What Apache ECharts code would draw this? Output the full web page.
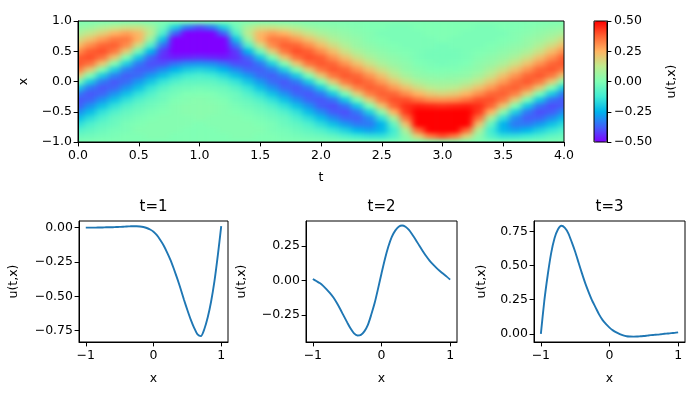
<!DOCTYPE html>
<html>
<head>
<meta charset="utf-8">
<script src="https://cdn.jsdelivr.net/npm/echarts@6/dist/echarts.min.js"></script>
<style>
html,body{margin:0;padding:0;background:#fff;width:700px;height:400px;overflow:hidden}
#heatClip{position:absolute;left:78px;top:21px;width:486px;height:121px;overflow:hidden;background:#80ffb4}
#heat{position:absolute;left:-6px;top:-3px;width:499px;height:128px;filter:url(#soft)}
#main{position:absolute;left:0;top:0;width:700px;height:400px}
</style>
</head>
<body>
<svg width="0" height="0" style="position:absolute"><filter id="soft" x="0" y="0" width="100%" height="100%" color-interpolation-filters="sRGB"><feGaussianBlur stdDeviation="3.8 2"/></filter></svg>
<div id="heatClip"><div id="heat"></div></div>
<div id="main"></div>
<script>
// u(t,x) in hundredths: one row per t = 0.0, 0.1 ... 4.0, each running x = -1.0 ... 1.0
const fieldColumns = [
[0,-4,-9,-16,-23,-31,-38,-39,-34,-20,0,20,34,39,38,31,23,16,9,4,0],
[0,-3,-6,-10,-16,-23,-30,-37,-39,-34,-20,0,20,35,40,38,31,22,14,6,0],
[0,-2,-4,-6,-10,-15,-22,-30,-37,-39,-34,-20,1,21,35,40,37,29,19,10,0],
[0,-1,-2,-4,-5,-9,-15,-22,-30,-37,-39,-33,-19,1,21,34,38,34,25,13,0],
[0,0,-1,-1,-3,-5,-9,-15,-22,-30,-36,-38,-33,-19,0,19,31,34,28,15,0],
[0,0,1,0,-1,-3,-5,-9,-15,-22,-29,-36,-38,-34,-21,-3,15,25,24,15,0],
[0,1,1,1,0,-1,-3,-5,-9,-14,-21,-29,-37,-40,-37,-25,-9,5,12,9,0],
[0,1,1,1,1,0,-1,-3,-4,-8,-14,-22,-31,-40,-44,-43,-35,-22,-10,-3,0],
[0,0,1,1,1,1,1,0,-2,-4,-9,-16,-25,-35,-46,-54,-56,-50,-37,-19,0],
[0,0,0,1,1,2,2,1,0,-3,-6,-12,-20,-31,-45,-59,-69,-71,-59,-34,0],
[0,0,0,0,2,2,2,2,0,-2,-6,-10,-18,-30,-44,-60,-74,-78,-68,-40,0],
[0,0,0,1,1,2,2,1,0,-3,-6,-12,-20,-31,-45,-59,-69,-71,-59,-34,0],
[0,0,1,1,1,1,1,0,-2,-4,-9,-16,-25,-35,-46,-54,-56,-50,-37,-19,0],
[0,1,1,1,1,0,-1,-3,-4,-8,-14,-22,-31,-40,-44,-43,-35,-22,-10,-3,0],
[0,1,1,1,0,-1,-3,-5,-9,-14,-21,-29,-37,-40,-37,-25,-9,5,12,9,0],
[0,0,1,0,-1,-3,-5,-9,-15,-22,-29,-36,-38,-34,-21,-3,15,25,24,15,0],
[0,0,-1,-1,-3,-5,-9,-15,-22,-30,-36,-38,-33,-19,0,19,31,34,28,15,0],
[0,-1,-2,-4,-5,-9,-15,-22,-30,-37,-39,-33,-19,1,21,34,38,34,25,13,0],
[0,-2,-4,-6,-10,-15,-22,-30,-37,-39,-34,-20,1,21,35,40,37,29,19,10,0],
[0,-3,-6,-10,-16,-23,-30,-37,-39,-34,-20,0,20,35,40,38,31,22,14,6,0],
[0,-4,-9,-16,-23,-31,-38,-39,-34,-20,0,20,34,39,38,31,23,16,9,4,0],
[0,-6,-14,-22,-31,-38,-40,-35,-20,0,20,34,39,37,30,23,16,10,6,3,0],
[0,-10,-19,-29,-37,-40,-35,-21,-1,20,34,39,37,30,22,15,10,6,4,2,0],
[0,-13,-25,-34,-38,-34,-21,-1,19,33,39,37,30,22,15,9,5,4,2,1,0],
[0,-15,-28,-34,-31,-19,0,19,33,38,36,30,22,15,9,5,3,1,1,0,0],
[0,-15,-24,-25,-15,3,21,34,38,36,29,22,15,9,5,3,1,0,-1,0,0],
[0,-9,-12,-5,9,25,37,40,37,29,21,14,9,5,3,1,0,-1,-1,-1,0],
[0,3,10,22,35,43,44,40,31,22,14,8,4,3,1,0,-1,-1,-1,-1,0],
[0,19,37,50,56,54,46,35,25,16,9,4,2,0,-1,-1,-1,-1,-1,0,0],
[0,34,59,71,69,59,45,31,20,12,6,3,0,-1,-2,-2,-1,-1,0,0,0],
[0,40,68,78,74,60,44,30,18,10,6,2,0,-2,-2,-2,-2,0,0,0,0],
[0,34,59,71,69,59,45,31,20,12,6,3,0,-1,-2,-2,-1,-1,0,0,0],
[0,19,37,50,56,54,46,35,25,16,9,4,2,0,-1,-1,-1,-1,-1,0,0],
[0,3,10,22,35,43,44,40,31,22,14,8,4,3,1,0,-1,-1,-1,-1,0],
[0,-9,-12,-5,9,25,37,40,37,29,21,14,9,5,3,1,0,-1,-1,-1,0],
[0,-15,-24,-25,-15,3,21,34,38,36,29,22,15,9,5,3,1,0,-1,0,0],
[0,-15,-28,-34,-31,-19,0,19,33,38,36,30,22,15,9,5,3,1,1,0,0],
[0,-13,-25,-34,-38,-34,-21,-1,19,33,39,37,30,22,15,9,5,4,2,1,0],
[0,-10,-19,-29,-37,-40,-35,-21,-1,20,34,39,37,30,22,15,10,6,4,2,0],
[0,-6,-14,-22,-31,-38,-40,-35,-20,0,20,34,39,37,30,23,16,10,6,3,0],
[0,-4,-9,-16,-23,-31,-38,-39,-34,-20,0,20,34,39,38,31,23,16,9,4,0]
];
const tCats = ['0.0','0.1','0.2','0.3','0.4','0.5','0.6','0.7','0.8','0.9','1.0','1.1','1.2','1.3','1.4','1.5','1.6','1.7','1.8','1.9','2.0','2.1','2.2','2.3','2.4','2.5','2.6','2.7','2.8','2.9','3.0','3.1','3.2','3.3','3.4','3.5','3.6','3.7','3.8','3.9','4.0'];
const xCats = ['-1.0','-0.9','-0.8','-0.7','-0.6','-0.5','-0.4','-0.3','-0.2','-0.1','0.0','0.1','0.2','0.3','0.4','0.5','0.6','0.7','0.8','0.9','1.0'];

const t1X = [-1,-0.95,-0.9,-0.85,-0.8,-0.75,-0.7,-0.65,-0.6,-0.55,-0.5,-0.45,-0.4,-0.35,-0.3,-0.25,-0.2,-0.15,-0.1,-0.05,0,0.05,0.1,0.15,0.2,0.25,0.3,0.35,0.4,0.45,0.5,0.55,0.6,0.65,0.7,0.75,0.8,0.85,0.9,0.95,1];
const t1Y = [0,0,0,0,0.001,0.001,0.002,0.002,0.003,0.004,0.005,0.006,0.008,0.009,0.01,0.01,0.008,0.004,-0.003,-0.014,-0.03,-0.055,-0.09,-0.13,-0.18,-0.235,-0.3,-0.37,-0.445,-0.525,-0.6,-0.67,-0.73,-0.777,-0.79,-0.74,-0.655,-0.54,-0.39,-0.2,0.01];
const t2X = [-1,-0.95,-0.9,-0.85,-0.8,-0.75,-0.7,-0.65,-0.6,-0.55,-0.5,-0.45,-0.4,-0.35,-0.3,-0.25,-0.2,-0.15,-0.1,-0.05,0,0.05,0.1,0.15,0.2,0.25,0.3,0.35,0.4,0.45,0.5,0.55,0.6,0.65,0.7,0.75,0.8,0.85,0.9,0.95,1];
const t2Y = [0.01,-0.005,-0.02,-0.04,-0.065,-0.093,-0.125,-0.165,-0.21,-0.258,-0.305,-0.35,-0.385,-0.4,-0.395,-0.37,-0.325,-0.25,-0.165,-0.06,0.05,0.155,0.245,0.315,0.36,0.388,0.397,0.388,0.365,0.33,0.293,0.252,0.213,0.176,0.143,0.115,0.09,0.068,0.047,0.027,0.005];
const t3X = [-1,-0.95,-0.9,-0.85,-0.8,-0.75,-0.7,-0.65,-0.6,-0.55,-0.5,-0.45,-0.4,-0.35,-0.3,-0.25,-0.2,-0.15,-0.1,-0.05,0,0.05,0.1,0.15,0.2,0.25,0.3,0.35,0.4,0.45,0.5,0.55,0.6,0.65,0.7,0.75,0.8,0.85,0.9,0.95,1];
const t3Y = [0,0.24,0.43,0.59,0.7,0.765,0.79,0.775,0.735,0.67,0.6,0.52,0.44,0.365,0.3,0.24,0.19,0.14,0.1,0.07,0.045,0.025,0.01,-0.002,-0.012,-0.018,-0.02,-0.021,-0.02,-0.018,-0.016,-0.013,-0.01,-0.008,-0.006,-0.003,0,0.002,0.005,0.007,0.01];

const tTicks = [0,0.5,1,1.5,2,2.5,3,3.5,4];
const xTicksTop = [-1,-0.5,0,0.5,1];
const xTicksLine = [-1,0,1];
const colorbarTicks = [-0.5,-0.25,0,0.25,0.5];
const t1Ticks = [-0.75,-0.5,-0.25,0];
const t2Ticks = [-0.25,0,0.25];
const t3Ticks = [0,0.25,0.5,0.75];
const panelTitles = ['t=1','t=2','t=3'];
const rainbow = ['#7f00ff','#4062fa','#00b4ec','#40ecd4','#80ffb4','#bfec8e','#ffb462','#ff6232','#ff0000'];

const FONT = 'DejaVu Sans';
const fmt = d => v => v.toFixed(d).replace('-', '\u2212');

const cells = [];
fieldColumns.forEach((col, i) => col.forEach((v, j) => {
  cells.push([i, j, Math.max(-0.5, Math.min(0.5, v / 100))]);
}));

const heat = echarts.init(document.getElementById('heat'), null, {renderer:'canvas'});
heat.setOption({
  animation:false,
  grid:{left:0, top:0, width:498.15, height:127.05},
  xAxis:{type:'category', data:tCats, show:false},
  yAxis:{type:'category', data:xCats, show:false},
  visualMap:{show:false, min:-0.5, max:0.5, inRange:{color:rainbow}},
  series:[{type:'heatmap', data:cells, progressive:0, itemStyle:{borderWidth:0}}]
});

function valueAxis(o){
  return {
    type:'value', min:o.min, max:o.max, scale:true, position:o.position,
    name:o.name, nameLocation:'middle', nameGap:o.gap,
    nameTextStyle:{fontFamily:FONT, fontSize:12.5, color:'#000'},
    splitLine:{show:false},
    axisLine:{show:true, onZero:false, lineStyle:{color:'#000', width:1}},
    axisTick:{show:true, length:4.4, lineStyle:{color:'#000', width:1}, customValues:o.ticks},
    axisLabel:{show:true, margin:o.margin, color:'#000', fontFamily:FONT, fontSize:12.5, customValues:o.ticks, formatter:fmt(o.d), hideOverlap:false}
  };
}
const panels = [
 {l:79, w:149, x:t1X, y:t1Y, ymin:-0.833, ymax:0.048, ticks:t1Ticks, gap:59},
 {l:306, w:151, x:t2X, y:t2Y, ymin:-0.447, ymax:0.43, ticks:t2Ticks, gap:58},
 {l:534, w:151, x:t3X, y:t3Y, ymin:-0.06, ymax:0.825, ticks:t3Ticks, gap:46}
];
const grids = [
 {left:78, top:21, width:486, height:121, show:true, borderColor:'#000', borderWidth:1, backgroundColor:'transparent'},
 {left:594, top:21, width:13, height:121, show:true, borderColor:'#000', borderWidth:1, backgroundColor:'transparent', z:6}
];
const xAxes = [
 Object.assign(valueAxis({min:0,max:4,ticks:tTicks,d:1,name:'t',gap:29,position:'bottom',margin:7}),{gridIndex:0}),
 {gridIndex:1, type:'value', min:0, max:1, show:false}
];
const yAxes = [
 Object.assign(valueAxis({min:-1,max:1,ticks:xTicksTop,d:1,name:'x',gap:42,position:'left',margin:6}),{gridIndex:0}),
 Object.assign(valueAxis({min:-0.5,max:0.5,ticks:colorbarTicks,d:2,name:'u(t,x)',gap:58,position:'right',margin:7}),{gridIndex:1,z:6})
];
const series = [];
const titles = [];
panels.forEach((p,i)=>{
  const g = i+2;
  grids.push({left:p.l, top:221, width:p.w, height:121, show:true, borderColor:'#000', borderWidth:1, backgroundColor:'transparent'});
  xAxes.push(Object.assign(valueAxis({min:-1.1,max:1.1,ticks:xTicksLine,d:0,name:'x',gap:30,position:'bottom',margin:7}),{gridIndex:g}));
  yAxes.push(Object.assign(valueAxis({min:p.ymin,max:p.ymax,ticks:p.ticks,d:2,name:'u(t,x)',gap:p.gap,position:'left',margin:6}),{gridIndex:g}));
  series.push({type:'line', xAxisIndex:g, yAxisIndex:g, data:p.x.map((v,k)=>[v,p.y[k]]), symbol:'none', smooth:0.25,
    lineStyle:{color:'#1f77b4', width:1.9}, silent:true});
  titles.push({text:panelTitles[i], left:p.l+p.w/2, top:200, textAlign:'center',
    textStyle:{fontFamily:FONT, fontSize:15, fontWeight:'normal', color:'#000'}, padding:0});
});

const chart = echarts.init(document.getElementById('main'), null, {renderer:'canvas'});
chart.setOption({
  animation:false,
  backgroundColor:'transparent',
  title:titles,
  grid:grids,
  xAxis:xAxes,
  yAxis:yAxes,
  visualMap:{type:'continuous', show:true, min:-0.5, max:0.5, calculable:false, seriesIndex:[], left:594, top:21,
    itemWidth:13, itemHeight:121, text:null, padding:0, realtime:false, hoverLink:false, inRange:{color:rainbow}, z:4},
  series:series
});
</script>
</body>
</html>
